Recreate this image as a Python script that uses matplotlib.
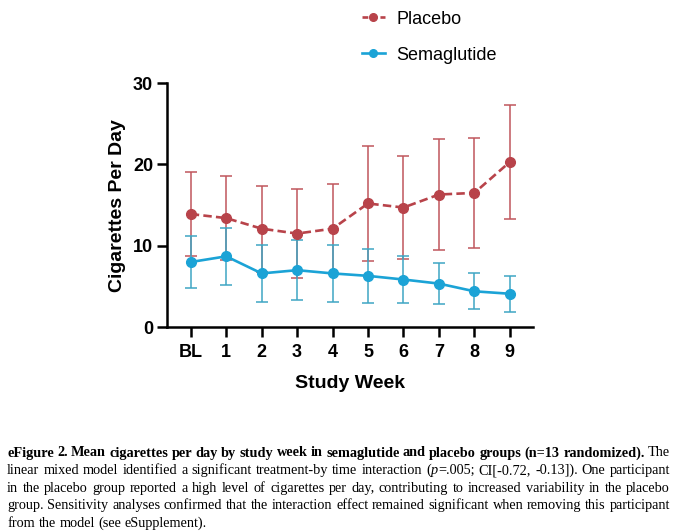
import matplotlib
matplotlib.use("Agg")
import matplotlib.pyplot as plt
from matplotlib.lines import Line2D
import numpy as np

# ---------- data ----------
weeks = ["BL", "1", "2", "3", "4", "5", "6", "7", "8", "9"]

placebo_mean = [13.9, 13.4, 12.1, 11.5, 12.1, 15.2, 14.7, 16.3, 16.5, 20.3]
placebo_err = [5.2, 5.2, 5.3, 5.5, 5.5, 7.1, 6.3, 6.8, 6.8, 6.95]

sema_mean = [8.0, 8.7, 6.6, 7.0, 6.6, 6.3, 5.85, 5.35, 4.4, 4.1]
sema_err = [3.2, 3.5, 3.5, 3.7, 3.5, 3.3, 2.9, 2.5, 2.2, 2.2]

PLACEBO_C = "#b8434a"
PLACEBO_EC = "#c0565c"
SEMA_C = "#1ba3d6"
SEMA_EC = "#3ea6c4"
PLACEBO_LS = (0, (3.2, 1.6))

plt.rcParams["font.family"] = ["Liberation Sans", "DejaVu Sans"]

fig = plt.figure(figsize=(6.8, 5.31), dpi=100)
ax = fig.add_axes([0.2456, 0.384, 0.538, 0.4595])

x = np.arange(len(weeks))
ax.errorbar(x, placebo_mean, yerr=placebo_err, color=PLACEBO_C, ecolor=PLACEBO_EC,
            lw=1.9, ls=PLACEBO_LS, marker="o", ms=7, elinewidth=1.1,
            capsize=4.5, capthick=1.1, zorder=3)
ax.errorbar(x, sema_mean, yerr=sema_err, color=SEMA_C, ecolor=SEMA_EC,
            lw=1.9, marker="o", ms=7, elinewidth=1.1,
            capsize=4.5, capthick=1.1, zorder=3)

ax.set_xlim(-0.67, 9.65)
ax.set_ylim(0, 30)
ax.set_yticks([0, 10, 20, 30])
ax.set_xticks(x)
ax.set_xticklabels(weeks)
for s in ["top", "right"]:
    ax.spines[s].set_visible(False)
for s in ["left", "bottom"]:
    ax.spines[s].set_linewidth(1.8)
ax.tick_params(width=1.8, length=7, labelsize=13)
ax.tick_params(axis="x", pad=5)
ax.tick_params(axis="y", pad=3)
for lab in ax.get_xticklabels() + ax.get_yticklabels():
    lab.set_fontweight("bold")
ax.set_xlabel("Study Week", fontsize=14, fontweight="bold", labelpad=10)
ax.set_ylabel("Cigarettes Per Day", fontsize=14, fontweight="bold", labelpad=5)

handles = [
    Line2D([], [], color=PLACEBO_C, lw=1.9, ls=(0, (2.2, 1.2)), marker="o", ms=5.5),
    Line2D([], [], color=SEMA_C, lw=1.9, marker="o", ms=5.5),
]
leg = fig.legend(handles, ["Placebo", "Semaglutide"], loc="center left",
                 bbox_to_anchor=(0.532, 0.930), frameon=False,
                 fontsize=13, handlelength=1.3, labelspacing=1.05,
                 handletextpad=0.6, borderaxespad=0, borderpad=0)

# ---------- caption (justified, word by word) ----------
caption = [
    [("eFigure 2. Mean cigarettes per day by study week in semaglutide and placebo groups (n=13 randomized). ", "bold", "normal"),
     ("The", "normal", "normal")],
    [("linear mixed model identified a significant treatment-by time interaction (", "normal", "normal"),
     ("p", "normal", "italic"),
     ("=.005; CI[-0.72, -0.13]). One participant", "normal", "normal")],
    [("in the placebo group reported a high level of cigarettes per day, contributing to increased variability in the placebo", "normal", "normal")],
    [("group. Sensitivity analyses confirmed that the interaction effect remained significant when removing this participant", "normal", "normal")],
    [("from the model (see eSupplement).", "normal", "normal")],
]

renderer = fig.canvas.get_renderer()
left_px, right_px = 7, 670
cap_size = 10.3
line_y0, line_dy = 456.5, 17.6
H = fig.bbox.height
W = fig.bbox.width


def split_words(line):
    # list of words; each word = list of (text, weight, style) pieces
    words, cur = [], []
    for text, weight, style in line:
        parts = text.split(" ")
        for i, p in enumerate(parts):
            if i > 0:
                if cur:
                    words.append(cur)
                cur = []
            if p:
                cur.append((p, weight, style))
    if cur:
        words.append(cur)
    return words


def piece_width(text, weight, style):
    t = fig.text(0, 0, text, fontsize=cap_size, family="Liberation Serif",
                 weight=weight, style=style)
    w = t.get_window_extent(renderer).width
    t.remove()
    return w


space_w = piece_width("a a", "normal", "normal") - piece_width("aa", "normal", "normal")

for li, line in enumerate(caption):
    words = split_words(line)
    widths = [[piece_width(*p) for p in wd] for wd in words]
    total = sum(sum(w) for w in widths)
    if li < len(caption) - 1 and len(words) > 1:
        gap = (right_px - left_px - total) / (len(words) - 1)
    else:
        gap = space_w
    xpos = left_px
    ypix = line_y0 + li * line_dy
    for wd, ws in zip(words, widths):
        for (text, weight, style), w in zip(wd, ws):
            fig.text(xpos / W, 1 - ypix / H, text, fontsize=cap_size,
                     family="Liberation Serif", weight=weight, style=style,
                     va="baseline", ha="left")
            xpos += w
        xpos += gap

fig.savefig("out.png", dpi=100)
